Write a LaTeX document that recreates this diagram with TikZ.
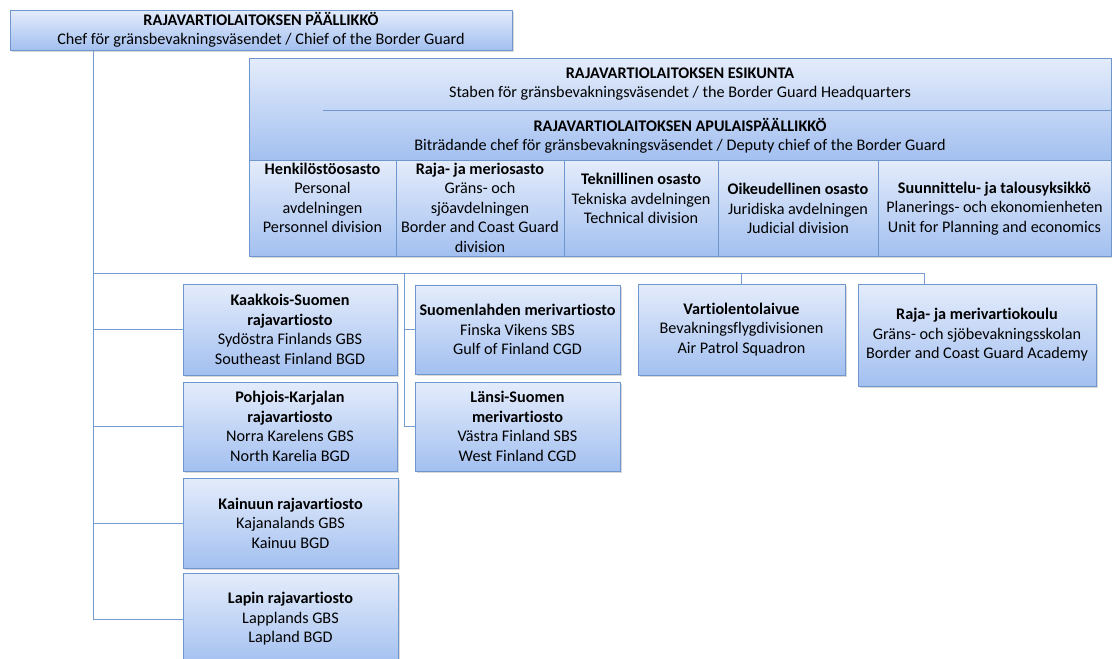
\documentclass[tikz,border=0pt]{standalone}
\usepackage{fontspec}
\setmainfont{Carlito}[Ligatures={NoCommon,NoContextual}]
\usetikzlibrary{shadows,calc}
\definecolor{topc}{RGB}{228,236,251}
\definecolor{botc}{RGB}{163,192,240}
\definecolor{bordc}{RGB}{112,150,206}
\definecolor{linec}{RGB}{118,155,210}
\newcommand\orgfont{\fontsize{16.2}{19.5}\selectfont}
\tikzset{
  orgbox/.style={draw=bordc, line width=1pt, top color=topc, bottom color=botc,
    drop shadow={shadow xshift=1.5pt, shadow yshift=-2pt, opacity=0.3},
    inner sep=0pt, align=center, font=\orgfont, text=black},
  conn/.style={draw=linec, line width=1pt},
  lbl/.style={align=center, font=\orgfont, inner sep=0pt, text=black},
  sepline/.style={draw=bordc, line width=1pt},
}
\begin{document}
\begin{tikzpicture}[x=1pt,y=-1pt]
\useasboundingbox (0,0) rectangle (1112,659);

% chief
\node[orgbox, minimum width=502, minimum height=40] (chief) at (261,30)
  {\textbf{RAJAVARTIOLAITOKSEN PÄÄLLIKKÖ}\\Chef för gränsbevakningsväsendet / Chief of the Border Guard};

% headquarters block
\node[orgbox, minimum width=862, minimum height=102] (hq) at (680,109) {};
\draw[sepline] ($(hq.north west)+(74,53)$) -- ($(hq.north east)+(0,53)$);
\node[lbl] (esik) at (680,84) {\textbf{RAJAVARTIOLAITOKSEN ESIKUNTA}\\Staben för gränsbevakningsväsendet / the Border Guard Headquarters};
\node[lbl] (apul) at (680,136) {\textbf{RAJAVARTIOLAITOKSEN APULAISPÄÄLLIKKÖ}\\Biträdande chef för gränsbevakningsväsendet / Deputy chief of the Border Guard};

% divisions
\node[orgbox, minimum width=147, minimum height=96] (d1) at (322.5,208) {};
\node[orgbox, minimum width=168, minimum height=96] (d2) at (480,208) {};
\node[orgbox, minimum width=154, minimum height=96] (d3) at (641,208) {};
\node[orgbox, minimum width=160, minimum height=96] (d4) at (798,208) {};
\node[orgbox, minimum width=233, minimum height=96] (d5) at (994.5,208) {};
\node[lbl] (t1) at (322.5,198) {\textbf{Henkilöstöosasto}\\Personal\\avdelningen\\Personnel division};
\node[lbl] (t2) at (480,207.5) {\textbf{Raja- ja meriosasto}\\Gräns- och\\sjöavdelningen\\Border and Coast Guard\\division};
\node[lbl] (t3) at (641,198.5) {\textbf{Teknillinen osasto}\\Tekniska avdelningen\\Technical division};
\node[lbl] (t4) at (798,208.5) {\textbf{Oikeudellinen osasto}\\Juridiska avdelningen\\Judicial division};
\node[lbl] (t5) at (994.5,208.5) {\textbf{Suunnittelu- ja talousyksikkö}\\Planerings- och ekonomienheten\\Unit for Planning and economics};

% lower units
\node[orgbox, minimum width=214, minimum height=91] (kaak) at (290,329.5)
  {\textbf{Kaakkois-Suomen}\\\textbf{rajavartiosto}\\Sydöstra Finlands GBS\\Southeast Finland BGD};
\node[orgbox, minimum width=214, minimum height=89] (pohj) at (290,426.5)
  {\textbf{Pohjois-Karjalan}\\\textbf{rajavartiosto}\\Norra Karelens GBS\\North Karelia BGD};
\node[orgbox, minimum width=215, minimum height=90] (kain) at (290.5,523)
  {\textbf{Kainuun rajavartiosto}\\Kajanalands GBS\\Kainuu BGD};
\node[orgbox, minimum width=215, minimum height=92] (lapi) at (290.5,619)
  {\textbf{Lapin rajavartiosto}\\Lapplands GBS\\Lapland BGD};
\node[orgbox, minimum width=205, minimum height=89] (suom) at (517.5,329.5)
  {\textbf{Suomenlahden merivartiosto}\\Finska Vikens SBS\\Gulf of Finland CGD};
\node[orgbox, minimum width=205, minimum height=89] (lans) at (517.5,426.5)
  {\textbf{Länsi-Suomen}\\\textbf{merivartiosto}\\Västra Finland SBS\\West Finland CGD};
\node[orgbox, minimum width=207, minimum height=91] (vart) at (741.5,329.5)
  {\textbf{Vartiolentolaivue}\\Bevakningsflygdivisionen\\Air Patrol Squadron};
\node[orgbox, minimum width=238, minimum height=102] (rkou) at (977,335)
  {\textbf{Raja- ja merivartiokoulu}\\Gräns- och sjöbevakningsskolan\\Border and Coast Guard Academy};

% connectors
\coordinate (trunk) at ($(chief.south west)+(84,0)$);
\coordinate (bus) at ($(trunk)+(0,223)$);
\coordinate (sdrop) at ($(suom.west |- bus)+(-10,0)$);
\coordinate (rdrop) at ($(rkou.north west)+(67,0)$);
\draw[conn] (trunk) |- (lapi.west);
\draw[conn] (trunk |- kaak.west) -- (kaak.west);
\draw[conn] (trunk |- pohj.west) -- (pohj.west);
\draw[conn] (trunk |- kain.west) -- (kain.west);
\draw[conn] (bus) -| (rdrop);
\draw[conn] (bus -| vart.north) -- (vart.north);
\draw[conn] (sdrop) |- (lans.west);
\draw[conn] (sdrop |- suom.west) -- (suom.west);
\end{tikzpicture}
\end{document}
